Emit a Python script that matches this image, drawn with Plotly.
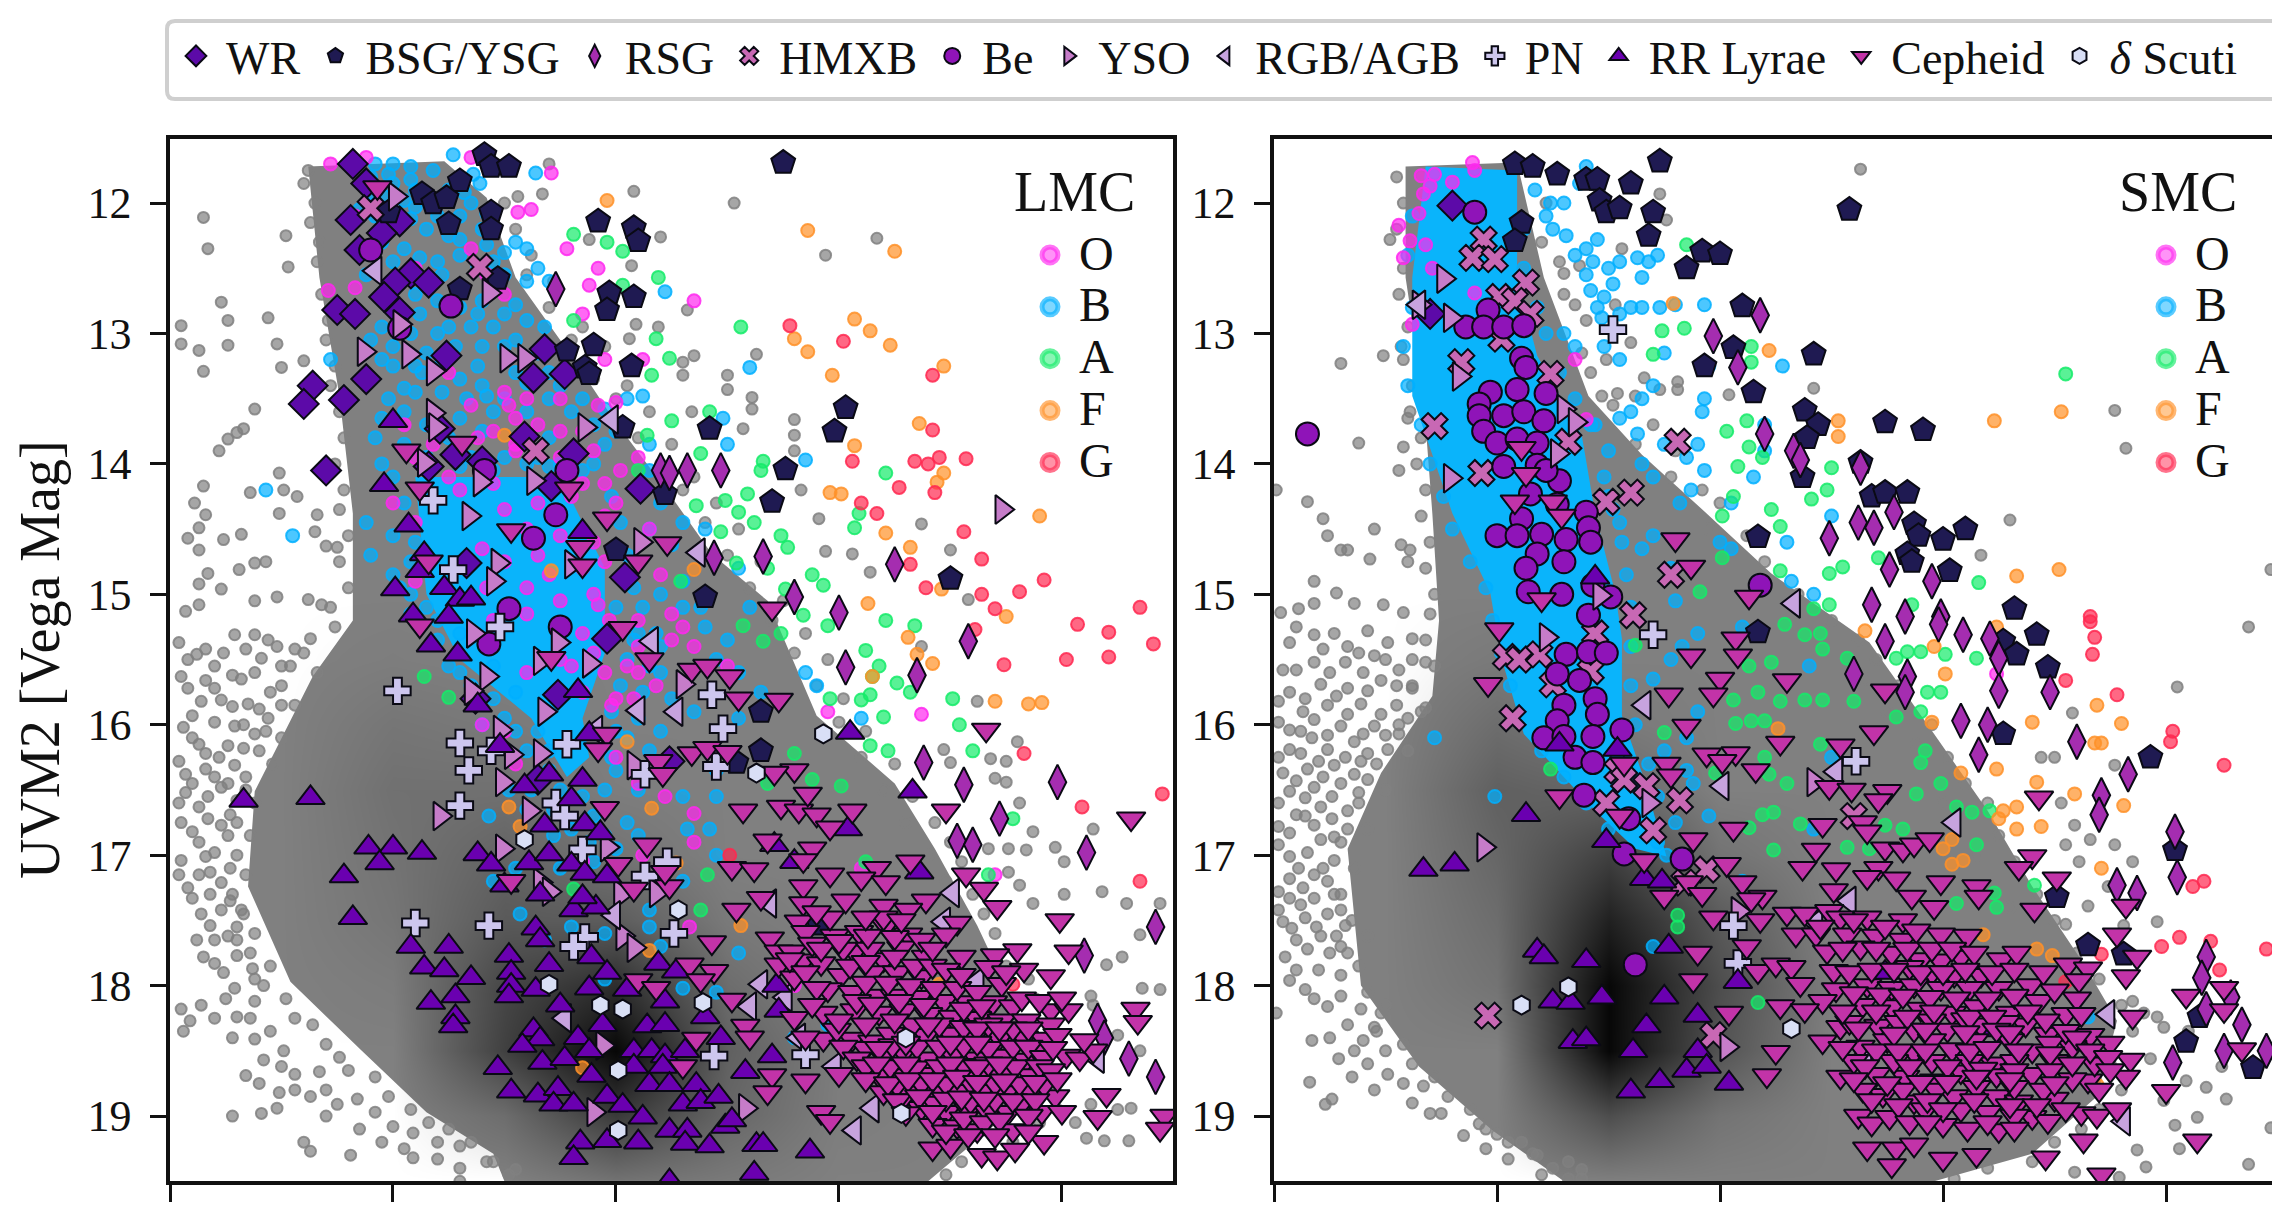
import plotly.graph_objects as go

PAGE_W, PAGE_H = 2272, 1218
tick_vals_y = [12, 13, 14, 15, 16, 17, 18, 19]
tick_vals_x = [0, 1, 2, 3, 4]
y_title = "UVM2 [Vega Mag]"

# ---------- LMC values (position on the colour axis, UVM2) ----------
lmc_gray = [(.15,12.11),(.17,12.35),(.52,12.25),(.53,12.49),(.23,12.76),(.26,12.9),(.44,12.88),(.05,12.94),(.05,13.08),(.13,13.13),(.26,13.09),(.48,13.08),(.6,13.21),(.15,13.29),(.5,13.26),(.38,13.58),(.33,13.73),(.3,13.76),(.26,13.81),(.22,13.9),(.49,14.07),(.15,14.17),(.36,14.22),(.51,14.2),(.57,14.25),(.11,14.3),(.16,14.39),(.49,14.38),(.66,14.39),(.65,14.52),(.13,14.49),(.08,14.57),(.13,14.66),(.24,14.58),(.32,14.54),(.7,14.63),(.75,14.64),(.38,14.76),(.43,14.75),(.31,14.81),(.17,14.84),(.13,14.92),(.23,14.96),(.38,15.05),(.48,15.02),(.62,15.04),(.68,15.08),(.13,15.08),(.07,15.13),
(2.53,12.0),(2.08,11.91),(1.7,11.7),(1.67,11.93),(1.56,11.95),(2.2,12.26),(1.88,12.28),(3.17,12.27),(2.94,12.4),(2.07,12.48),(2.32,12.82),(2.09,12.93),(2.19,12.95),(2.06,13.04),(2.63,13.16),(2.35,13.17),(2.3,13.22),(2.3,13.32),(2.5,13.32),(2.5,13.43),(2.61,13.49),(2.61,13.58),(2.34,13.6),(2.8,13.66),(2.8,13.78),(2.57,13.73),(2.8,13.9),(2.83,14.2),(2.91,14.42),(3.37,14.46),(2.94,14.67),(3.06,14.69),(3.5,14.66),(3.14,14.83),(3.58,15.04),
(3.37,15.4),(3.62,15.82),(3.8,16.13),(3.47,16.19),(3.68,16.26),(3.75,16.28),(3.5,16.29),(3.7,16.41),(3.75,16.44),(3.81,16.6),(4.14,16.8),(3.87,16.82),(3.67,16.95),(3.76,16.95),(3.84,16.96),(3.97,16.94),(4.01,17.05),(3.76,17.13),(3.81,17.23),(4.01,17.3),(4.18,17.28),(4.29,17.37),(4.44,17.37),(3.87,17.37),(4.35,17.61),(4.27,17.78),(4.2,17.84),(4.44,18.03),(4.36,18.02),(4.13,18.08),(4.14,18.15),(4.25,18.38),(4.35,18.5),(4.31,18.94),(4.25,18.95),(4.13,18.91),(4.06,19.05),(4.11,19.17),(4.19,19.19),(4.3,19.19),
(.12,15.46),(.2,15.55),(.29,15.31),(.05,15.63),(.16,15.66),(.32,15.65),(.41,15.49),(.54,15.55),(.48,15.4),(.38,15.31),(.04,15.37),(.63,15.34),(.23,15.81),(.1,15.93),(.35,15.84),(.45,15.75),(.29,16.01),(.1,16.1),(.04,16.28),(.16,16.22),(.26,16.16),(.38,16.07),(.16,16.34),(.29,16.31),(.1,16.45),(.23,16.48),(.13,16.63),(.04,16.6),(.27,16.69),(.1,16.82),(.23,16.77),(.05,17.04),(.16,17.01),(.13,17.15),(.23,17.21),(.1,17.33),(.18,17.3),(.23,17.42),(.32,17.42),(.18,17.54),(.26,17.62),(.3,17.77),(.2,17.83),(.24,17.9),(.37,17.87),(.29,18.02),(.38,18.12),(.05,18.18),(.09,18.27),(.2,18.25),(.3,18.24),(.06,18.35),(.38,18.41),(.51,18.5),(.42,18.57),(.34,18.69),(.56,18.68),(.67,18.66),(.49,18.82),(.63,18.85),(.75,18.91),(.84,18.87),(.28,19.0),(.41,18.98),(.48,18.94),(.92,18.97),(1.0,19.08),(1.09,19.13),(1.2,19.2),(.6,19.2),(.63,19.27),(.81,19.3),(1.09,19.32),(1.3,19.23),(1.42,19.35),(1.55,19.41),(1.3,19.5)]
lmc_gray_edge = [(1.5,12.0),(1.55,12.2),(1.62,12.4),(1.6,12.55),(1.72,12.6),(1.7,12.8),(1.85,12.95),(1.8,13.05),(1.95,13.1),(1.9,13.35),(2.05,13.4),(2.0,13.5),(2.15,13.6),(2.1,13.8),(2.25,13.85),(2.2,14.0),(2.35,14.1),(2.3,14.2),(2.45,14.3),(2.4,14.45),(2.55,14.5),(2.5,14.7),(2.65,14.75),(2.6,14.95),(2.75,15.05),(2.7,15.2),(2.85,15.3),(2.8,15.45),(2.95,15.5),(2.9,15.7),(3.02,15.8),(3.0,15.98),(3.12,16.05),(3.1,16.25),(3.25,16.3),(3.2,16.5),(3.33,16.55),(3.3,16.75),(3.43,16.75),(3.5,16.9),(3.4,17.0),(3.55,17.05),(3.48,17.2),(3.6,17.3),(3.65,17.45),(3.55,17.5),(3.7,17.6),(3.62,17.75),(3.75,17.85),(3.85,17.95),(3.88,18.1),(3.95,18.3),(3.95,18.75),(3.98,18.95),(3.9,19.05),(3.78,19.2),(3.65,19.3),(3.55,19.35),(3.48,19.45),(3.75,18.98),
(.62,11.75),(.6,11.85),(.65,12.0),(.63,12.15),(.67,12.3),(.66,12.45),(.68,12.7),(.71,12.9),(.7,13.05),(.74,13.25),(.72,13.4),(.76,13.6),(.78,13.8),(.74,14.0),(.78,14.2),(.76,14.35),(.8,14.55),(.76,14.75),(.8,14.95),(.72,15.1),(.74,15.25),(.6,15.45),(.66,15.6),(.5,15.7),(.56,15.85),(.44,15.95),(.5,16.1),(.4,16.2),(.46,16.3),(.34,16.4),(.38,16.6),(.3,16.75),(.36,16.85),(.3,17.0),(.34,17.15),(.28,17.3),(.33,17.45),(.38,17.6),(.36,17.75),(.45,17.85),(.42,18.0),(.52,18.1),(.56,18.25),(.64,18.3),(.7,18.45),(.76,18.55),(.8,18.65),(.92,18.7),(.98,18.85),(1.08,18.95),(1.16,19.05),(1.25,19.1),(1.35,19.2),(1.45,19.35),(1.52,19.45)]
lmc_gray_more = [(.08,15.5),(.16,15.42),(.24,15.45),(.34,15.42),(.44,15.35),(.56,15.42),(.08,15.72),(.2,15.72),(.28,15.62),(.38,15.6),(.5,15.55),(.14,15.82),(.28,15.86),(.4,15.88),(.5,15.85),(.06,16.02),(.2,15.98),(.33,16.0),(.43,16.05),(.13,16.15),(.22,16.25),(.33,16.18),(.07,16.38),(.2,16.4),(.26,16.45),(.34,16.5),(.07,16.52),(.17,16.55),(.3,16.58),(.17,16.72),(.05,16.75),(.26,16.85),(.13,16.9),(.2,16.98),(.27,17.1),(.04,17.15),(.18,17.13),(.08,17.25),(.27,17.35),(.14,17.45),(.3,17.55),(.2,17.65),(.12,17.65),(.3,17.65),(.15,17.78),(.38,17.95),(.25,18.1),(.36,18.25),(.14,18.15),(.45,18.35),(.5,18.62),(.28,18.4),(.4,18.75),(.56,18.8),(.7,18.8),(.7,19.0),(.85,19.1),(.95,19.2),(1.05,19.25),(1.2,19.33),(1.3,19.4)]
lmc_o = [(.72,11.7),(.88,11.65),(1.35,11.65),(1.71,11.77),(1.56,12.07),(1.62,12.05),(.83,12.1),(1.78,12.35),(1.92,12.5),(1.88,12.63),(2.35,12.75),(.71,12.67),(.83,12.65),(1.35,12.35),(1.42,12.55),(1.5,12.7),(1.1,12.5),(1.85,12.85),(1.95,13.2),(2.12,13.2),(1.92,13.55),(2.0,13.53),(1.75,13.5),(1.52,13.55),(1.55,13.65),(1.05,13.7),(1.1,13.95),(1.18,13.85),(1.38,13.8),(1.55,13.9),(1.75,13.95),(2.1,13.95),(1.85,14.15),(1.95,14.15),(2.0,14.3),(1.0,14.3),(1.1,14.45),(1.25,14.1),(1.75,14.1),(1.9,14.6),(2.15,14.5),(1.4,14.65),(1.65,14.7),(1.95,14.75),(1.9,15.0),(1.97,15.2),(2.2,14.85),(1.1,14.9),(1.42,14.95),(1.6,14.95),(1.92,15.08),(2.25,15.35),(2.5,15.55),(1.9,15.45),(2.05,15.55),(2.1,15.6),(2.18,15.7),(2.0,15.8),(2.08,15.8),(2.95,15.9),(1.98,15.85),(1.4,16.0),(1.5,16.05),(1.95,16.1),(1.55,16.3),(2.0,16.25),(2.1,16.45),(3.37,15.92),(2.22,16.55),(2.35,16.68),(2.35,16.9),(2.12,17.0),(1.85,17.05),(3.1,17.1),(3.7,17.15),(2.33,17.55),(2.8,18.0),(2.65,18.0),
(1.3,14.2),(1.45,14.15),(1.5,14.35),(1.65,14.3),(1.8,14.25),(1.6,14.5),(1.75,14.55),(1.85,14.8),(1.7,14.85),(1.5,14.75),(1.75,15.05),(1.6,15.15),(1.45,15.2),(1.85,15.3),(1.95,15.6),(1.75,15.5),(1.6,15.6),(1.85,15.75),(1.8,15.55),(2.25,15.15),(2.3,15.25),(2.35,15.4),(2.0,15.3),(2.1,15.4),(2.1,15.2),(1.25,13.3),(1.35,13.55),(1.5,13.45),(1.55,13.85),(1.6,13.5),(1.45,13.75),(1.65,13.7),(1.85,13.75),(1.75,13.75),(1.9,13.9),(2.02,14.05),(1.95,14.4)]
lmc_b = [(.84,11.7),(.92,11.7),(1.0,11.7),(1.08,11.72),(1.27,11.63),(1.36,11.78),(1.64,11.77),(1.0,11.85),(1.1,11.9),(.96,11.95),(1.25,11.9),(1.39,11.85),(1.35,12.0),(1.1,12.03),(1.2,12.1),(.85,12.05),(1.15,12.2),(1.25,12.25),(1.4,12.2),(1.55,12.3),(1.5,12.38),(1.6,12.35),(1.05,12.35),(1.12,12.42),(1.3,12.4),(1.2,12.45),(1.65,12.5),(1.7,12.6),(1.22,12.55),(1.5,12.55),(2.22,12.68),(1.1,12.7),(1.2,12.75),(1.4,12.75),(1.3,12.8),(1.5,12.85),(1.55,12.78),(1.6,12.9),(1.68,12.95),(1.35,12.95),(1.45,12.95),(1.2,13.0),(1.0,13.1),(1.28,13.1),(1.15,13.15),(1.4,13.1),(1.5,13.1),(.72,13.2),(1.0,13.25),(1.13,13.3),(1.3,13.35),(1.4,13.4),(1.55,13.3),(1.1,13.45),(1.22,13.45),(1.33,13.5),(1.5,13.5),(1.7,13.5),(1.85,13.5),(2.05,13.5),(2.12,13.48),(2.6,13.26),(.95,13.65),(1.05,13.6),(1.15,13.7),(1.3,13.65),(1.45,13.6),(1.6,13.6),(1.8,13.6),(1.9,13.7),(.92,13.8),(1.05,13.85),(1.25,13.8),(1.4,13.75),(1.7,13.8),(1.95,13.85),(2.0,13.75),(2.15,13.85),(2.48,13.65),(2.5,13.85),(.43,14.2),(.95,14.0),(1.65,13.95),(1.9,14.0),(2.15,14.05),(2.85,13.97),(.55,14.55),(2.2,14.3),(2.3,14.45),(2.15,14.5),(2.25,14.62),(2.4,14.5),(2.55,14.8),(2.6,15.1),(.88,14.45),(.9,14.7),(1.1,14.6),(1.0,14.85),(1.08,15.0),
(2.1,15.3),(2.2,15.4),(2.5,15.35),(2.85,15.6),(2.9,15.7),(2.15,15.55),(2.25,15.8),(2.35,15.9),(2.55,15.95),(2.65,15.75),(1.3,15.6),(1.4,16.0),(1.55,16.05),(2.05,16.1),(2.15,16.2),(2.2,16.05),(3.1,15.95),(2.0,16.35),(2.1,16.5),(2.3,16.55),(2.45,16.35),(2.45,16.55),(1.43,16.7),(1.9,16.7),(2.05,16.75),(2.1,16.85),(2.32,16.8),(2.42,16.8),(2.45,17.0),(1.88,16.9),(1.45,17.2),(1.55,17.1),(2.2,17.1),(2.3,17.2),(1.57,17.45),(2.15,17.42),(1.8,17.55),(2.15,17.55),(1.95,17.6),(2.2,17.7),(2.55,17.75),(1.68,17.65),(2.3,18.02),(2.45,18.05),(1.95,17.95),(2.8,18.4),(2.95,18.3),
(1.0,14.1),(1.05,14.3),(1.0,14.55),(1.08,14.75),(1.03,14.95),(1.15,15.1),(1.12,15.25),(1.2,15.35),(1.25,15.55),(1.35,15.7),(1.45,15.8),(1.5,15.95),(1.6,16.2),(1.7,16.35),(1.75,16.5),(1.85,16.55),(1.95,16.5),(1.98,16.25),(2.0,16.05),(1.98,15.9),(2.02,15.7),(2.05,15.5),(2.08,15.35),(2.0,15.1),(2.08,14.95),(2.05,14.7),(2.02,14.45),(1.98,14.25),(1.85,14.05),(1.7,14.02),(1.45,14.05),(1.3,14.02),(1.15,14.02),
(.9,11.8),(.98,11.78),(1.08,11.82),(1.18,11.75),(.9,11.92),(1.05,11.98),(1.18,11.98),(1.32,11.92),(.92,12.1),(1.08,12.12),(1.3,12.1),(1.42,12.08),(.95,12.3),(1.3,12.28),(1.42,12.32),(1.0,12.45),(1.38,12.48),(1.45,12.45),(1.6,12.6),(.88,12.55),(1.0,12.78),(1.12,12.85),(1.38,12.85),(.95,12.95),(1.08,13.0),(1.25,12.95),(1.55,13.05),(1.65,13.15),(.9,13.05),(.95,13.2),(1.1,13.25),(1.22,13.22),(1.38,13.25),(1.7,13.3),(1.05,13.42),(.98,13.5),(1.42,13.48),(1.6,13.38),(1.75,13.4),(1.95,13.58),(1.35,13.95),(1.5,13.95),(1.15,13.95),(1.6,14.0),(1.75,14.0),
(1.08,15.15),(1.2,15.2),(1.3,15.3),(1.45,15.55),(1.55,15.75),(1.65,16.05),(1.7,16.2),(1.52,16.5),(1.62,16.5),(1.6,16.65),(1.72,16.65),(1.8,16.8),(1.72,16.85),(1.95,16.85),(1.9,17.05),(2.0,16.95),(1.75,17.1),(2.12,15.75),(2.1,15.95),(2.2,15.6),(2.18,15.3),(2.12,15.1),(2.2,15.0),(2.3,15.1),(2.3,14.9),(2.38,15.1),(2.4,15.25),(2.45,15.5),(2.55,15.6)]
lmc_a = [(1.81,12.24),(1.96,12.3),(2.03,12.37),(2.19,12.57),(2.03,12.63),(1.81,12.9),(2.56,12.95),(2.18,13.04),(2.24,13.19),(2.16,13.32),(2.25,13.67),(2.42,13.6),(2.14,13.78),(2.38,13.92),(2.66,13.98),(2.65,14.05),(3.21,14.07),(2.1,14.05),(2.59,14.23),(2.49,14.28),(2.36,14.32),(2.55,14.37),(2.62,14.45),(3.09,14.38),(3.07,14.49),(2.47,14.52),(2.74,14.55),(2.77,14.64),(2.54,14.76),(2.88,14.85),(2.93,14.93),(2.68,14.8),(2.29,14.9),(2.76,14.96),(2.84,15.16),(2.57,15.24),(2.66,15.36),(2.74,15.3),(2.95,15.24),(3.12,15.43),(3.21,15.2),(3.34,15.24),(3.18,15.55),(3.15,15.63),(3.26,15.68),(3.32,15.75),(3.51,15.8),(2.96,15.8),(3.10,15.81),(3.14,15.77),(3.2,15.94),(3.54,16.0),(3.14,16.16),(3.22,16.2),(3.6,16.2),(2.8,16.22),(2.88,16.42),(3.01,16.47),(2.68,16.45),(1.14,15.63),(1.25,15.79),(3.78,16.72),(2.41,17.15),(3.12,17.05),(3.67,17.15),(1.81,17.26),(2.38,17.42)]
lmc_f = [(1.96,11.98),(2.86,12.21),(3.25,12.37),(3.07,12.89),(3.14,12.98),(2.8,13.04),(2.86,13.14),(3.23,13.09),(3.47,13.25),(2.97,13.32),(3.36,13.69),(3.07,13.86),(3.47,14.07),(3.44,14.14),(2.96,14.22),(3.01,14.23),(3.9,14.4),(3.21,14.53),(3.32,14.64),(2.35,14.81),(1.71,14.82),(3.46,14.96),(3.13,15.07),(3.75,15.17),(1.5,13.78),(3.31,15.33),(3.35,15.46),(3.42,15.53),(3.15,15.63),(3.7,15.82),(3.85,15.84),(3.91,15.83),(2.05,16.13),(1.52,16.63),(2.16,16.64),(1.57,16.78),(2.27,17.06),(2.56,17.54),(2.15,17.73),(3.45,17.99),(1.85,18.63)]
lmc_g = [(2.78,12.94),(3.02,13.06),(3.42,13.32),(3.42,13.74),(3.45,13.95),(3.57,13.96),(3.06,13.98),(3.34,13.98),(3.4,14.0),(3.27,14.18),(3.43,14.22),(3.1,14.3),(3.17,14.38),(3.56,14.52),(3.64,14.73),(3.32,14.77),(3.39,14.95),(3.92,14.89),(3.81,14.98),(3.64,15.0),(3.7,15.11),(4.35,15.1),(3.61,15.27),(4.07,15.23),(4.21,15.29),(4.41,15.38),(4.02,15.5),(4.21,15.48),(3.74,15.54),(3.83,16.22),(4.45,16.53),(4.09,16.63),(2.51,17.0),(4.35,17.2),(3.78,17.99)]
lmc_wr = [(.82,11.70),(.88,11.85),(.81,12.13),(1.03,12.14),(.95,12.23),(.85,12.36),(1.08,12.54),(1.16,12.61),(1.01,12.61),(.96,12.72),(.75,12.82),(.83,12.85),(1.03,12.84),(1.68,13.12),(1.24,13.17),(.88,13.35),(1.77,13.31),(1.63,13.34),(.64,13.40),(.60,13.54),(.78,13.51),(1.59,13.79),(1.21,13.73),(1.81,13.92),(1.28,13.93),(1.40,13.98),(1.16,14.02),(.70,14.05),(1.71,14.17),(2.11,14.19),(1.33,14.76),(2.04,14.87),(1.96,15.34),(1.74,15.77),(1.37,15.80),(2.24,16.28),(1.65,16.42)]
lmc_bsg = [(1.41,11.63),(1.44,11.72),(1.52,11.72),(2.75,11.69),(1.30,11.83),(1.13,11.93),(1.18,12.0),(1.24,11.96),(.98,12.07),(1.44,12.07),(1.44,12.2),(1.25,12.16),(1.92,12.14),(2.08,12.19),(2.10,12.29),(1.47,12.58),(1.30,12.66),(1.97,12.69),(2.08,12.72),(1.96,12.82),(1.78,13.13),(1.90,13.09),(1.86,13.26),(2.07,13.25),(1.88,13.31),(3.03,13.57),(2.98,13.75),(2.42,13.73),(2.03,13.72),(2.76,14.04),(2.22,14.23),(2.70,14.29),(2.0,14.66),(3.50,14.88),(2.40,15.02),(2.65,15.90),(2.65,16.2),(2.54,16.29),(2.91,17.53)]
lmc_rsg = [(1.73,12.66),(2.2,14.05),(2.24,14.07),(2.32,14.05),(2.47,14.05),(2.66,14.71),(2.44,14.72),(3.25,14.77),(2.80,15.02),(3.0,15.14),(3.58,15.36),(3.03,15.56),(3.35,15.62),(3.38,16.29),(3.56,16.46),(3.98,16.44),(3.72,16.72),(3.53,16.89),(3.60,16.92),(4.11,16.98),(4.42,17.55),(4.10,17.77),(4.16,18.27),(4.19,18.40),(4.30,18.56),(4.42,18.70)]
lmc_hmxb = [(.90,12.04),(1.39,12.49),(1.64,13.90)]
lmc_be = [(.90,12.36),(1.26,12.79),(1.03,12.96),(1.41,14.05),(1.78,14.05),(1.73,14.39),(1.63,14.57),(1.52,15.11),(1.43,15.38),(1.75,15.25)]
lmc_yso = [(1.01,11.95),(1.03,12.93),(.87,13.14),(1.07,13.16),(1.18,13.29),(1.51,13.19),(1.59,13.19),(1.43,12.69),(1.18,13.61),(1.19,13.72),(1.86,13.72),(1.14,13.99),(1.39,14.14),(1.63,14.13),(1.34,14.4),(2.11,14.6),(1.47,14.76),(1.80,14.77),(1.45,14.9),(1.36,15.3),(1.74,15.37),(1.88,15.53),(1.66,15.51),(1.42,15.63),(1.35,15.74),(1.68,15.9),(2.30,15.69),(1.48,16.04),(1.66,16.22),(1.53,16.23),(2.08,16.31),(1.49,16.44),(1.21,16.70),(1.61,16.66),(1.49,16.95),(1.96,16.94),(1.66,17.21),(1.70,17.28),(2.02,17.3),(2.18,17.29),(2.03,17.62),(2.08,17.71),(1.94,18.46),(1.90,18.97),(2.58,18.94),(3.73,14.35)]
lmc_rgb = [(.92,12.52),(1.98,13.66),(2.37,14.68),(2.16,15.36),(2.10,15.89),(2.27,15.9),(1.91,16.04),(1.99,17.46),(2.69,17.37),(3.51,17.29),(3.47,17.51),(3.62,17.97),(2.65,17.99),(2.76,18.09),(2.60,18.16),(1.77,18.25),(2.98,18.62),(3.15,18.94),(3.07,19.11),(4.16,18.56),(2.82,18.4)]
lmc_pn = [(1.18,14.28),(1.27,14.81),(1.48,15.25),(1.02,15.74),(2.43,15.77),(2.48,16.03),(1.30,16.14),(1.78,16.15),(1.44,16.2),(1.34,16.35),(2.13,16.38),(2.45,16.32),(1.30,16.62),(1.73,16.6),(1.77,16.7),(1.85,16.96),(2.23,17.05),(2.13,17.16),(1.10,17.52),(1.43,17.54),(2.26,17.6),(1.86,17.63),(1.81,17.7),(2.44,18.54),(2.85,18.53)]
lmc_rr = [(1.0,13.67),(.96,14.16),(1.07,14.47),(1.14,14.69),(1.12,14.82),(1.01,14.96),(1.23,14.95),(1.30,15.04),(1.35,15.03),(1.09,15.16),(1.25,15.17),(1.85,14.52),(1.17,15.39),(1.29,15.46),(1.83,15.74),(1.38,15.85),(1.48,16.16),(1.88,16.07),(1.59,16.47),(1.70,16.38),(1.85,16.42),(1.80,16.57),(3.05,16.06),(3.33,16.51),(.33,16.58),(.63,16.56),(1.68,16.77),(1.86,16.76),(1.93,16.83),(3.04,16.8),(.89,16.94),(1.0,16.94),(1.13,16.98),(.94,17.06),(1.38,16.99),(1.44,17.07),(1.61,17.06),(1.70,16.99),(1.80,17.07),(1.86,17.14),(1.96,17.16),(1.50,17.23),(1.66,17.3),(.78,17.16),(.82,17.48),(1.81,17.42),(1.91,17.4),(1.85,17.32),(3.36,17.13),(2.71,16.92),(2.80,17.05),(1.64,17.56),(1.66,17.65),(1.08,17.7),(1.25,17.7),(1.52,17.77),(1.89,17.78),(1.14,17.86),(1.23,17.88),(1.53,17.9),(1.70,17.84),(1.96,17.9),(2.19,17.83),(2.27,17.89),(1.35,17.94),(1.53,18.0),(1.64,18.03),(1.28,18.08),(1.52,18.08),(1.17,18.13),(1.75,18.15),(1.88,18.02),(2.05,18.03),(2.72,18.0),(2.22,18.12),(2.73,18.19),(1.28,18.24),(1.27,18.31),(2.40,18.24),(1.94,18.3),(2.14,18.31),(2.22,18.3),(1.63,18.34),(1.66,18.41),(1.58,18.46),(2.47,18.4),(1.83,18.4),(1.88,18.5),(2.08,18.5),(2.16,18.5),(2.22,18.54),(2.31,18.5),(2.70,18.54),(1.47,18.63),(1.67,18.59),(1.77,18.56),(1.89,18.69),(2.08,18.62),(2.21,18.62),(2.58,18.66),(1.53,18.81),(1.65,18.84),(1.74,18.79),(1.96,18.85),(2.15,18.76),(2.24,18.76),(2.36,18.76),(1.72,18.91),(1.81,18.91),(2.03,18.92),(2.30,18.91),(2.38,18.89),(2.46,18.85),(2.12,19.01),(2.24,19.11),(2.32,19.11),(2.49,19.08),(2.52,19.03),(1.84,19.2),(1.96,19.19),(2.10,19.2),(2.31,19.21),(2.42,19.23),(2.63,19.22),(2.66,19.22),(2.87,19.27),(1.81,19.32),(2.62,19.44),(2.24,19.5)]
lmc_cep = [(.93,11.88),(1.06,13.9),(1.31,13.84),(1.12,14.19),(1.79,14.19),(1.96,14.42),(1.53,14.51),(2.23,14.61),(1.84,14.64),(1.16,14.75),(2.10,14.75),(1.85,14.78),(2.70,15.11),(1.12,15.24),(2.03,15.26),(1.71,15.49),(2.15,15.5),(2.34,15.58),(2.41,15.55),(2.51,15.63),(2.55,15.8),(2.73,15.81),(1.96,16.07),(1.92,16.19),(2.19,16.28),(2.34,16.22),(2.41,16.18),(2.5,16.21),(2.21,16.38),(2.80,16.35),(3.66,16.04),(2.71,16.37),(2.57,16.66),(1.95,16.64),(2.74,16.63),(2.82,16.66),(2.90,16.69),(2.86,16.53),(3.06,16.66),(2.96,16.79),(3.48,16.66),(4.31,16.72),(2.68,16.89),(2.88,16.95),(2.84,17.04),(2.14,16.92),(2.01,17.07),(2.52,17.1),(2.62,17.11),(3.17,17.1),(3.32,17.05),(3.57,17.15),(1.53,17.2),(2.08,17.26),(2.24,17.24),(2.22,17.13),(2.65,17.33),(2.84,17.24),(2.96,17.15),(3.10,17.18),(3.21,17.21),(3.65,17.26),(2.54,17.42),(2.84,17.37),(3.03,17.35),(3.20,17.39),(3.39,17.35),(3.31,17.42),(3.71,17.4),(3.99,17.5),(2.43,17.67),(2.82,17.51),(2.85,17.59),(2.98,17.62),(3.09,17.59),(3.21,17.54),(3.31,17.61),(3.53,17.52),(3.48,17.61),(2.69,17.64),(2.33,17.84),(2.44,17.89),(2.38,17.96),(2.10,17.96),(2.18,18.02),(2.73,17.74),(2.79,17.74),(2.84,17.81),(2.92,17.83),(3.07,17.74),(3.20,17.8),(3.28,17.71),(3.39,17.78),(3.55,17.78),(3.80,17.73),(3.70,17.77),(4.03,17.74),(3.67,17.86),(3.83,17.88),(3.95,17.93),(2.73,17.84),(3.01,17.92),(3.15,17.9),(3.26,17.9),(3.37,17.93),(2.80,17.94),(2.95,18.03),(3.06,18.05),(3.17,18.08),(3.25,18.08),(3.36,18.09),(3.47,18.12),(3.58,18.13),(3.73,17.99),(3.69,18.13),(3.78,18.16),(2.52,18.11),(2.93,18.21),(3.07,18.19),(3.18,18.21),(3.29,18.19),(3.40,18.22),(3.51,18.24),(3.62,18.25),(3.73,18.27),(3.84,18.27),(3.95,18.19),(4.03,18.19),(4.33,18.18),(4.34,18.28),(2.58,18.31),(2.60,18.4),(2.93,18.41),(3.06,18.41),(3.15,18.43),(2.99,18.34),(3.23,18.37),(3.39,18.38),(3.50,18.37),(3.61,18.38),(3.72,18.4),(3.83,18.4),(3.92,18.41),(3.95,18.3),(4.02,18.54),(4.08,18.56),(4.14,18.5),(2.36,18.41),(2.30,18.62),(2.70,18.69),(2.68,18.82),(2.85,18.73),(3.20,18.54),(3.29,18.51),(3.40,18.56),(3.51,18.53),(3.62,18.56),(3.73,18.54),(3.84,18.57),(3.18,18.69),(3.28,18.69),(3.37,18.68),(3.48,18.66),(3.58,18.68),(3.67,18.68),(3.76,18.68),(3.86,18.69),(3.20,18.82),(3.31,18.82),(3.42,18.82),(3.53,18.81),(3.64,18.81),(3.75,18.82),(3.86,18.81),(3.97,18.85),(4.20,18.84),(3.37,18.94),(3.48,18.97),(3.58,18.95),(3.67,18.97),(3.76,18.97),(3.91,18.97),(4.0,18.97),(4.16,19.01),(2.92,18.97),(2.96,19.04),(4.46,19.0),(4.44,19.1),(3.42,19.07),(3.53,19.08),(3.62,19.11),(3.78,19.11),(3.92,19.2),(3.42,19.25),(3.50,19.23),(3.64,19.3),(3.71,19.32),(3.79,19.26),
(3.12,18.3),(3.33,18.3),(3.45,18.3),(3.56,18.32),(3.67,18.3),(3.78,18.33),(3.12,18.48),(3.24,18.46),(3.35,18.47),(3.45,18.47),(3.56,18.46),(3.67,18.48),(3.78,18.47),(3.89,18.5),(3.23,18.62),(3.34,18.63),(3.45,18.62),(3.56,18.61),(3.67,18.6),(3.79,18.62),(3.26,18.76),(3.37,18.75),(3.48,18.75),(3.59,18.74),(3.7,18.75),(3.81,18.75),(3.92,18.76),(3.28,18.88),(3.43,18.9),(3.59,18.89),(3.7,18.88),(3.82,18.9),(3.02,17.72),(3.14,17.72),(3.25,17.78),(3.34,17.85),(3.12,17.98),(3.22,17.98),(3.32,18.0),(3.43,18.02),(3.53,18.02),(3.62,18.05),
(3.05,17.85),(3.12,17.82),(3.42,17.85),(3.48,17.88),(3.55,17.92),(3.75,17.9),(3.08,18.12),(3.15,18.14),(3.27,18.12),(3.38,18.15),(3.56,18.18),(3.64,18.16),(3.82,18.1),(3.9,18.12),(4.0,18.1),(3.0,18.27),(3.25,18.27),(3.4,18.3),(3.62,18.33),(3.72,18.33),(3.85,18.33),(3.98,18.38),(4.1,18.42),(2.8,18.25),(2.85,18.4),(3.02,18.47),(3.08,18.56),(3.18,18.48),(3.3,18.44),(3.5,18.44),(3.62,18.44),(3.85,18.47),(3.92,18.55),(3.96,18.48),(3.12,18.62),(3.17,18.6),(3.3,18.6),(3.5,18.6),(3.62,18.62),(3.72,18.6),(3.9,18.62),(3.95,18.65),(3.0,18.68),(3.12,18.72),(3.22,18.75),(3.31,18.72),(3.42,18.72),(3.53,18.7),(3.62,18.74),(3.74,18.73),(3.88,18.74),(3.98,18.72),(3.26,18.88),(3.36,18.85),(3.48,18.87),(3.55,18.86),(3.65,18.87),(3.78,18.88),(3.88,18.88),(3.3,18.98),(3.42,18.97),(3.56,19.02),(3.65,19.05),(3.72,19.03),(3.85,19.0),(3.48,19.12),(3.58,19.15),(3.7,19.15),(3.85,19.12),(2.88,17.68),(2.92,17.72),(3.0,17.66),(3.13,17.62),(3.25,17.63),(3.37,17.65),(3.42,17.72),(3.2,17.48),(3.28,17.5),(3.12,17.48),(2.96,17.48),(2.9,17.44),(2.78,17.8),(2.85,17.9),(2.9,18.02),(2.88,18.15)]
lmc_scuti = [(2.93,16.07),(2.63,16.37),(1.59,16.88),(2.28,17.42),(1.70,17.99),(1.93,18.15),(2.03,18.18),(2.39,18.13),(3.30,18.40),(2.01,18.65),(3.28,18.98),(2.01,19.11)]

lmc_dense_gray = [(.62,11.72),(1.23,11.68),(1.42,11.96),(1.55,12.57),(1.80,13.17),(1.99,13.66),(2.24,14.23),(2.43,14.69),(2.68,15.05),(2.90,15.93),(3.25,16.45),(3.43,16.95),(3.62,17.54),(3.78,18.12),(3.87,18.70),(3.69,19.08),(3.40,19.5),(1.5,19.5),(1.45,19.29),(1.15,18.97),(.86,18.5),(.54,17.97),(.35,17.24),(.38,16.51),(.64,15.63),(.82,15.2),(.82,14.38),(.76,13.48),(.67,12.57)]
lmc_dense_b = [(1.1,14.1),(1.75,14.1),(1.95,14.8),(1.95,15.45),(1.85,15.95),(1.88,16.25),(1.78,16.4),(1.62,15.95),(1.3,15.5),(1.15,15.0)]
lmc_dark_x = [.5, 1, 1.5, 2, 2.5, 3, 3.5]
lmc_dark_y = [15, 15.5, 16, 16.5, 17, 17.5, 18, 18.5, 19, 19.5]
lmc_dark_z = [[0,0,0,0,0,0,0],[0,.02,0,0,0,0,0],[0,.08,.05,0,0,0,0],[0,.12,.12,.02,0,0,0],[0,.1,.22,.1,0,0,0],[0,.08,.3,.28,.05,0,0],[0,.03,.45,.65,.15,0,0],[0,0,.5,.95,.25,.03,0],[0,0,.15,.55,.2,.02,0],[0,0,0,.1,.05,0,0]]

# ---------- SMC values ----------
smc_gray = [(2.63,11.74),(1.73,11.93),(1.76,12.13),(.52,12.28),(1.56,12.35),(1.15,12.48),(1.37,12.48),(1.3,12.54),(1.35,12.78),(1.53,12.78),(.3,13.23),(.49,13.17),(.57,13.1),(1.6,13.07),(1.49,13.2),(1.81,13.37),(1.66,13.34),(1.47,13.48),(1.54,13.46),(1.62,13.48),(1.73,13.43),(1.81,13.43),(2.04,13.47),(2.42,13.42),(3.77,13.59),(3.82,13.88),(.61,13.6),(.38,13.84),(.58,13.87),(.56,14.05),(.01,14.2),(.15,14.29),(.22,14.42),(.45,14.5),(.24,14.55),(.3,14.66),(.33,14.66),(.57,14.62),(.61,14.66),(.43,14.73),(.6,14.75),(.18,14.9),(.28,14.99),(.18,15.07),(.11,15.11),(.36,15.07),(.49,15.08),(.58,15.14),(.03,15.14),(3.3,14.43),(3.17,14.7),(4.47,14.81),
(.18,15.31),(.07,15.37),(.27,15.3),(.33,15.4),(.42,15.28),(.51,15.37),(.62,15.34),(.18,15.52),(.04,15.58),(.32,15.52),(.45,15.47),(.56,15.58),(.68,15.52),(.07,15.75),(.21,15.69),(.33,15.72),(.48,15.66),(.62,15.72),(.13,15.9),(.24,15.85),(.39,15.84),(.55,15.85),(.68,15.87),(.07,16.04),(.18,15.96),(.3,16.01),(.45,16.01),(.56,16.07),(.07,16.19),(.17,16.1),(.24,16.19),(.36,16.13),(.51,16.19),(.04,16.37),(.15,16.34),(.27,16.31),(.39,16.28),(.07,16.51),(.18,16.48),(.3,16.45),(.42,16.42),(.1,16.69),(.21,16.63),(.33,16.66),(.07,16.83),(.18,16.77),(.27,16.86),(.07,17.01),(.15,16.98),(.27,17.04),(.07,17.18),(.18,17.15),(.07,17.33),(.18,17.33),(.27,17.3),(.04,17.51),(.14,17.48),(.24,17.45),(.1,17.65),(.21,17.62),(.32,17.54),(.42,17.62),(.07,17.96),(.14,18.03),(.24,18.16),(.01,18.21),(.39,18.18),(.45,18.32),(.48,18.21),(.17,18.42),(.36,18.5),(.29,18.56),(.42,18.6),(.51,18.68),(.16,18.74),(.67,18.77),(.26,18.87),(.23,18.91),(.7,18.98),(.75,18.98),(.92,19.06),(1.0,19.14),(1.11,19.2),(1.16,19.29),(1.32,19.35),(1.32,19.48),(1.38,19.41),
(4.37,15.25),(4.05,15.71),(3.58,15.91),(3.44,16.25),(3.5,16.25),(3.77,16.31),(3.53,16.6),(3.59,16.77),(3.66,16.88),(3.77,16.92),(3.55,16.92),(3.61,17.05),(3.85,17.05),(3.96,17.51),(3.74,17.24),(3.55,17.53),(3.65,17.39),(3.81,17.54),(3.85,18.12),(3.9,18.21),(3.99,18.32),(3.96,18.24),(4.1,18.35),(3.93,18.56),(4.18,18.78),(4.09,18.73),(4.27,18.87),(4.25,18.62),(3.99,18.88),(4.04,19.07),(4.14,19.01),(4.47,19.09),(3.87,19.26),(4.06,19.25),(4.37,19.37),(3.91,19.39),(3.59,19.43),(3.79,19.47)]
smc_gray_edge = [(.55,11.8),(.58,12.0),(.55,12.2),(.58,12.5),(.56,12.7),(.6,12.95),(.58,13.2),(.62,13.4),(.6,13.65),(.66,13.8),(.64,14.0),(.68,14.2),(.66,14.4),(.7,14.6),(.68,14.8),(.72,15.0),(.7,15.15),(.68,15.35),(.72,15.55),(.62,15.7),(.66,15.9),(.56,16.0),(.6,16.2),(.46,16.3),(.5,16.5),(.38,16.6),(.42,16.8),(.3,16.9),(.36,17.1),(.3,17.3),(.35,17.5),(.3,17.7),(.38,17.85),(.42,18.05),(.5,18.15),(.46,18.35),(.58,18.45),(.62,18.6),(.72,18.7),(.78,18.85),(.88,18.95),(.95,19.1),(1.05,19.2),(1.18,19.3),(1.25,19.4),(1.38,19.48),
(1.22,12.0),(1.2,12.3),(1.28,12.45),(1.3,12.7),(1.4,12.9),(1.38,13.15),(1.42,13.3),(1.52,13.55),(1.7,13.7),(1.62,13.85),(1.8,13.9),(1.78,14.1),(1.92,14.2),(2.0,14.3),(1.95,14.5),(2.12,14.55),(2.2,14.75),(2.15,14.95),(2.35,15.0),(2.5,15.2),(2.45,15.4),(2.62,15.35),(2.7,15.5),(2.65,15.65),(2.8,15.7),(2.75,15.9),(2.95,16.0),(2.88,16.15),(3.02,16.25),(3.1,16.45),(3.0,16.6),(3.2,16.6),(3.25,16.85),(3.15,17.0),(3.32,17.05),(3.42,17.3),(3.3,17.4),(3.5,17.5),(3.45,17.7),(3.6,17.75),(3.7,17.95),(3.6,18.0),(3.8,18.15),(3.85,18.35),(3.75,18.6),(3.8,18.8),(3.7,18.95),(3.62,19.1),(3.5,19.2),(3.4,19.35),(3.2,19.4),(3.05,19.48)]
smc_gray_more = [(.1,15.25),(.22,15.42),(.38,15.45),(.5,15.5),(.62,15.5),(.1,15.58),(.25,15.6),(.4,15.6),(.55,15.7),(.02,15.82),(.14,15.8),(.28,15.78),(.42,15.74),(.33,15.92),(.48,15.92),(.6,15.95),(.02,15.98),(.12,16.05),(.24,16.08),(.4,16.07),(.5,16.08),(.02,16.25),(.12,16.22),(.2,16.28),(.32,16.25),(.42,16.22),(.1,16.43),(.22,16.4),(.36,16.38),(.02,16.6),(.14,16.56),(.26,16.55),(.38,16.52),(.14,16.7),(.26,16.72),(.02,16.78),(.21,16.88),(.33,16.8),(.02,16.92),(.11,17.1),(.22,17.1),(.13,17.25),(.02,17.28),(.24,17.2),(.12,17.38),(.3,17.42),(.02,17.42),(.19,17.55),(.08,17.56),(.28,17.62),(.15,17.72),(.25,17.75),(.33,17.75),(.05,17.78),(.2,17.88),(.3,17.92),(.1,17.88),(.18,18.1),(.3,18.08),(.33,18.3),(.25,18.4),(.4,18.42),(.5,18.5),(.58,18.75),(.35,18.7),(.45,18.8),(.62,18.9),(.85,19.15),(.95,19.25),(1.05,19.33),(1.2,19.45)]
smc_o = [(.89,11.69),(.66,11.79),(.72,11.78),(.8,11.84),(.9,11.75),(.67,11.93),(.7,11.87),(.65,12.08),(.56,12.17),(.61,12.29),(.58,12.42),(.68,12.32),(.71,12.5),(.62,12.93),(1.35,13.2),(1.4,13.66),(.9,12.69),(3.24,15.61)]
smc_b = [(1.17,11.9),(1.24,12.0),(1.3,12.0),(1.37,11.85),(1.4,11.72),(1.22,12.1),(1.25,12.2),(1.31,12.25),(1.35,12.4),(1.4,12.35),(1.45,12.28),(1.43,12.45),(1.5,12.5),(1.55,12.45),(1.4,12.55),(1.63,12.42),(1.72,12.4),(1.68,12.45),(1.65,12.57),(1.42,12.67),(1.48,12.72),(1.52,12.62),(1.45,12.8),(1.73,12.8),(1.65,12.8),(1.55,12.85),(1.6,12.8),(1.8,12.78),(1.93,12.78),(1.47,12.88),(1.3,13.0),(1.35,13.1),(1.48,13.1),(1.55,13.2),(1.75,13.15),(1.95,13.25),(2.28,13.25),(1.7,13.4),(1.65,13.5),(1.6,13.6),(1.93,13.5),(1.55,13.65),(1.42,13.7),(1.63,13.77),(1.75,13.85),(1.5,13.9),(1.65,14.0),(1.92,13.6),(1.9,13.85),(2.2,13.7),(2.2,13.9),(1.7,14.1),(1.85,13.95),(1.93,14.05),(2.15,14.1),(1.87,14.2),(1.5,14.25),(1.82,14.3),(1.55,14.45),(2.05,14.3),(2.5,14.4),(1.7,14.55),(2.0,14.6),(2.05,14.65),(2.3,14.6),(1.65,14.65),(1.78,14.8),(2.32,14.9),(2.17,14.9),(1.8,15.05),(1.9,15.3),(2.1,15.25),(2.42,15.0),(1.78,15.5),(1.83,15.4),(2.4,15.55),(1.7,15.65),(1.9,15.9),(1.85,16.1),(1.75,16.2),(2.5,16.25),(.72,16.1),(1.85,16.35),(1.88,16.45),(.99,16.55),(1.95,16.7),(2.42,16.8),(1.72,16.9),(1.76,17.0),(2.1,17.2),(1.7,17.7),(3.65,18.24),
(.62,12.1),(.6,12.4),(.62,12.8),(.58,13.1),(.6,13.4),(.66,13.7),(.7,14.0),(.76,14.25),(.8,14.5),(.88,14.75),(.95,14.95),(.98,15.2),(1.02,15.45),(1.06,15.7),(1.08,15.95),(1.2,16.2),(1.3,16.4),(1.4,16.6),(1.5,16.8),(1.12,12.2),(1.12,12.5),(1.18,12.8),(1.22,13.0),(1.28,13.3),(1.35,13.5),(1.44,13.7),(1.48,14.1),(1.52,14.35),(1.56,14.6),(1.58,14.85),(1.6,15.1),(1.6,15.4),(1.6,15.7),(1.62,16.0),(1.68,16.3),(1.72,16.55),(1.8,16.75)]
smc_a = [(1.85,12.32),(1.74,12.98),(1.84,12.96),(1.7,13.16),(2.14,13.1),(2.14,13.22),(3.55,13.31),(2.03,13.75),(2.12,13.67),(2.13,13.87),(2.19,13.95),(2.08,14.02),(2.5,14.03),(2.48,14.2),(2.41,14.27),(2.23,14.35),(2.06,14.25),(2.01,14.4),(2.27,14.48),(2.01,14.72),(2.27,14.82),(2.49,14.84),(2.55,14.79),(1.91,14.98),(2.71,14.72),(3.16,14.91),(2.42,15.11),(2.49,15.08),(2.86,15.08),(2.29,15.23),(2.38,15.31),(2.45,15.3),(2.46,15.42),(1.62,15.39),(2.57,15.49),(2.79,15.49),(2.84,15.44),(2.9,15.44),(3.01,15.46),(3.15,15.49),(2.23,15.52),(2.13,15.55),(2.06,15.81),(2.17,15.75),(2.27,15.82),(2.38,15.81),(2.46,15.81),(2.6,15.82),(2.93,15.75),(2.99,15.75),(2.07,15.99),(2.14,15.97),(2.2,15.97),(1.75,16.06),(2.79,15.94),(2.9,15.9),(2.45,16.15),(2.2,16.25),(2.92,16.2),(2.9,16.29),(1.24,16.34),(1.98,16.37),(2.22,16.38),(2.3,16.45),(2.99,16.45),(2.88,16.53),(3.06,16.63),(3.13,16.67),(3.21,16.66),(3.41,17.23),(2.24,16.67),(2.19,16.69),(2.13,16.79),(2.36,16.76),(2.74,16.77),(2.82,16.8),(2.24,16.96),(2.57,16.94),(2.67,16.95),(3.15,16.92),(3.23,17.29),(3.24,17.4),(3.06,17.37),(1.81,17.46),(1.81,17.55),(2.17,18.13)]
smc_f = [(1.79,12.77),(2.22,13.13),(3.23,13.67),(3.53,13.6),(2.53,13.67),(2.53,13.79),(3.33,14.86),(3.52,14.81),(2.96,15.4),(3.01,15.61),(2.65,15.28),(3.24,15.25),(3.69,15.85),(3.8,15.99),(3.4,15.98),(2.95,15.98),(2.26,16.03),(3.68,16.14),(3.71,16.14),(3.08,16.37),(3.24,16.34),(3.42,16.44),(3.59,16.53),(3.81,16.62),(3.27,16.66),(3.33,16.63),(3.25,16.72),(3.33,16.8),(3.44,16.78),(3.04,16.88),(3.0,16.95),(3.09,17.04),(3.04,17.07),(3.71,17.1),(3.18,17.61),(3.42,17.72),(3.49,17.77),(3.58,18.72),(3.69,18.76)]
smc_g = [(3.66,15.17),(3.66,15.21),(3.68,15.33),(3.67,15.46),(3.55,15.66),(3.78,15.77),(4.03,16.05),(4.02,16.13),(4.26,16.31),(4.12,17.24),(4.17,17.2),(3.98,17.7),(4.06,17.63),(4.2,17.66),(3.71,17.76),(4.45,17.72),(4.24,17.88),(3.55,17.97)]
smc_wr = [(.8,12.02),(.7,12.85)]
smc_bsg = [(1.08,11.7),(1.16,11.72),(1.27,11.78),(1.4,11.82),(1.45,11.82),(1.6,11.85),(1.73,11.68),(1.46,11.98),(1.49,12.07),(1.55,12.04),(1.7,12.07),(2.58,12.05),(1.11,12.15),(1.68,12.25),(1.08,12.29),(1.92,12.37),(2.0,12.39),(1.85,12.5),(2.1,12.79),(2.06,13.11),(2.42,13.16),(1.93,13.25),(2.15,13.45),(2.38,13.59),(2.44,13.7),(2.74,13.68),(2.91,13.74),(2.39,13.8),(2.37,14.1),(2.63,13.99),(2.68,14.25),(2.74,14.22),(2.84,14.22),(2.87,14.46),(3.1,14.5),(2.89,14.55),(3.0,14.58),(2.17,14.56),(2.84,14.69),(2.86,14.75),(3.03,14.82),(3.32,15.11),(2.17,15.29),(3.42,15.31),(3.27,15.36),(3.33,15.46),(3.47,15.56),(3.27,16.07),(3.93,16.25),(4.04,16.96),(3.51,17.32),(3.65,17.69),(3.81,17.76),(4.15,18.24),(4.09,18.43),(4.39,18.63)]
smc_rsg = [(2.18,12.86),(1.97,13.02),(2.08,13.26),(2.2,13.77),(2.33,13.9),(2.36,13.97),(2.63,14.03),(2.49,14.57),(2.62,14.45),(2.69,14.49),(2.78,14.37),(2.76,14.81),(2.95,14.9),(2.68,15.08),(2.83,15.17),(2.99,15.17),(2.74,15.36),(2.98,15.23),(3.09,15.31),(3.21,15.34),(3.25,15.49),(2.6,15.61),(2.84,15.63),(3.25,15.74),(2.83,15.75),(3.48,15.75),(3.08,15.97),(3.2,16.0),(3.6,16.13),(3.16,16.23),(3.83,16.38),(3.71,16.54),(3.7,16.69),(4.04,16.82),(4.05,17.17),(3.78,17.23),(3.87,17.29),(4.18,17.78),(4.16,17.94),(4.29,18.09),(4.18,18.18),(4.34,18.3),(4.26,18.5),(4.03,18.59),(4.45,18.5)]
smc_hmxb = [(.94,12.28),(.89,12.42),(.99,12.43),(1.13,12.61),(1.01,12.72),(1.08,12.75),(1.15,12.85),(1.02,13.04),(.84,13.22),(1.24,13.31),(.72,13.71),(1.81,13.83),(1.32,13.83),(.93,14.07),(1.6,14.22),(1.49,14.29),(1.78,14.85),(1.61,15.16),(1.44,15.3),(1.04,15.48),(1.1,15.5),(1.19,15.46),(1.42,15.59),(1.25,15.69),(1.07,15.95),(1.54,16.35),(1.57,16.42),(1.67,16.47),(1.82,16.58),(1.49,16.6),(1.7,16.81),(1.94,17.11),(1.84,17.21),(2.6,16.7),(.96,18.23),(1.97,18.38)]
smc_be = [(.9,12.07),(.96,12.82),(.86,12.95),(.94,12.95),(1.03,12.95),(1.12,12.94),(1.11,13.19),(1.13,13.26),(.97,13.45),(1.09,13.43),(1.22,13.46),(.92,13.54),(.15,13.77),(.92,13.63),(1.03,13.63),(1.12,13.6),(1.21,13.67),(.94,13.75),(1.0,13.84),(1.09,13.81),(1.18,13.84),(1.03,14.02),(1.18,14.01),(1.28,14.13),(1.22,14.05),(1.15,14.23),(1.27,14.31),(1.4,14.37),(1.11,14.42),(1.41,14.49),(1.0,14.55),(1.09,14.55),(1.2,14.54),(1.31,14.58),(1.42,14.6),(1.18,14.69),(1.3,14.75),(1.13,14.8),(1.14,14.98),(1.29,15.0),(1.43,14.93),(1.51,15.02),(2.18,14.93),(1.41,15.16),(1.31,15.46),(1.41,15.44),(1.49,15.45),(1.27,15.61),(1.37,15.66),(1.44,15.8),(1.3,15.85),(1.45,15.92),(1.27,15.97),(1.56,16.04),(1.21,16.1),(1.43,16.09),(1.3,16.09),(1.35,16.25),(1.43,16.29),(1.39,16.54),(1.59,16.72),(1.57,16.99),(1.83,17.03),(1.62,17.84)]
smc_yso = [(.76,12.58),(.65,12.78),(.79,12.88),(.83,13.33),(1.3,13.58),(1.35,13.68),(1.27,13.92),(.79,14.11),(1.46,15.01),(1.22,15.33),(1.68,16.6),(.94,16.94),(2.42,16.44),(2.08,17.43),(2.03,18.47)]
smc_rgb = [(.65,12.78),(2.33,15.07),(1.66,15.85),(3.05,16.75),(2.01,16.47),(2.52,16.36),(2.58,17.35),(2.43,17.52),(3.74,18.22),(3.81,19.04),(2.65,18.54)]
smc_pn = [(1.52,12.97),(1.7,15.31),(2.61,16.28),(2.06,17.54),(2.08,17.83)]
smc_rr = [(1.44,14.87),(1.28,16.15),(1.54,16.19),(1.13,16.69),(1.49,16.89),(.67,17.11),(.81,17.07),(1.66,17.18),(1.74,17.2),(1.18,17.73),(1.21,17.78),(1.4,17.81),(1.77,17.7),(2.08,17.97),(1.25,18.12),(1.33,18.13),(1.47,18.09),(1.75,18.09),(1.9,18.23),(1.67,18.31),(1.34,18.43),(1.4,18.41),(1.61,18.5),(1.9,18.5),(1.85,18.65),(1.94,18.62),(1.73,18.73),(1.6,18.81),(2.04,18.75),(2.74,17.9),(3.2,18.34)]
smc_cep = [(1.11,13.88),(1.13,14.08),(1.08,14.29),(1.25,14.29),(1.29,14.4),(1.8,14.58),(1.87,14.79),(1.2,15.04),(2.13,15.02),(1.01,15.27),(2.07,15.34),(1.87,15.47),(2.08,15.47),(.96,15.69),(2.0,15.65),(2.3,15.66),(1.77,15.77),(1.97,15.77),(2.74,15.74),(1.85,16.01),(2.69,16.06),(2.27,16.14),(2.54,16.16),(1.94,16.23),(2.07,16.22),(2.01,16.28),(2.16,16.35),(1.76,16.3),(1.78,16.39),(1.57,16.3),(1.28,16.55),(1.55,16.7),(2.49,16.48),(2.59,16.5),(2.75,16.51),(2.71,16.58),(3.43,16.56),(2.06,16.8),(2.46,16.77),(2.64,16.75),(2.66,16.82),(1.88,16.88),(2.43,16.96),(2.74,16.95),(2.82,16.96),(2.87,16.92),(2.94,16.88),(3.4,17.01),(3.34,17.1),(1.66,17.04),(2.03,17.07),(2.37,17.1),(2.52,17.11),(2.71,17.1),(3.51,17.18),(1.86,17.21),(2.1,17.21),(2.66,17.17),(2.79,17.18),(2.99,17.21),(3.15,17.24),(3.16,17.32),(1.75,17.32),(1.92,17.3),(2.51,17.27),(2.86,17.32),(2.19,17.32),(2.14,17.34),(2.96,17.4),(3.41,17.42),(3.82,17.39),
(1.97,17.48),(2.18,17.5),(2.3,17.45),(2.38,17.45),(2.49,17.43),(2.54,17.48),(2.66,17.48),(2.82,17.5),(2.34,17.61),(2.43,17.61),(2.57,17.61),(2.7,17.62),(2.82,17.65),(2.99,17.61),(3.11,17.62),(3.78,17.61),(2.12,17.7),(2.48,17.74),(2.63,17.71),(2.77,17.75),(2.9,17.8),(2.99,17.81),(3.08,17.78),(3.26,17.8),(3.33,17.75),(3.87,17.78),(1.9,17.75),(3.56,17.84),(3.65,17.87),(2.51,17.89),(2.85,17.86),(2.95,17.9),(3.05,17.92),(3.17,17.92),(3.82,17.93),(1.88,17.96),(2.17,17.89),(2.25,17.84),(2.32,17.86),(2.36,17.99),(2.52,18.03),(2.66,18.0),(2.77,18.02),(2.87,18.0),(2.99,18.02),(3.12,18.02),(3.25,18.02),(3.39,18.0),(3.61,17.96),(4.09,18.08),(4.26,18.02),(2.46,18.12),(2.64,18.15),(2.77,18.16),(2.9,18.18),(3.04,18.21),(3.15,18.16),(3.3,18.21),(3.43,18.12),(3.55,18.22),(3.85,18.24),(4.26,18.19),(2.27,18.16),(2.38,18.19),(2.04,18.21),(2.54,18.32),(2.71,18.31),(2.87,18.34),(3.02,18.34),(3.17,18.3),(3.37,18.3),(3.47,18.37),(3.66,18.38),(3.75,18.44),(2.25,18.51),(2.46,18.43),(2.63,18.47),(2.87,18.51),(3.04,18.49),(3.23,18.6),(3.4,18.5),(3.58,18.47),(3.84,18.57),(2.21,18.69),(2.54,18.7),(2.7,18.68),(2.83,18.7),(2.96,18.73),(3.08,18.66),(3.24,18.69),(3.4,18.68),(3.82,18.7),(3.65,18.73),(4.0,18.81),(4.34,18.49),(2.73,18.84),(2.87,18.89),(3.05,18.85),(3.24,18.85),(3.5,18.87),(3.34,18.89),(3.62,18.98),(3.69,19.0),(3.78,18.95),(2.62,19.0),(2.68,19.06),(2.76,19.01),(3.0,19.07),(3.11,19.1),(3.25,19.11),(3.4,19.01),(3.47,19.04),(3.63,19.19),(4.14,19.19),(2.66,19.25),(2.79,19.25),(2.87,19.22),(3.0,19.33),(3.15,19.3),(2.77,19.38),(3.46,19.32),(3.71,19.45),
(2.58,18.28),(2.8,18.28),(2.95,18.27),(3.1,18.26),(3.28,18.28),(3.46,18.27),(2.75,18.42),(2.95,18.42),(3.14,18.42),(3.3,18.42),(3.48,18.44),(2.6,18.58),(2.78,18.58),(2.95,18.58),(3.12,18.58),(3.32,18.58),(3.5,18.58),(3.68,18.6),(2.64,18.8),(2.82,18.8),(2.97,18.8),(3.15,18.78),(3.32,18.78),(3.45,18.8),(3.58,18.72),(2.92,18.95),(3.08,18.95),(3.2,18.97),(3.32,19.0),
(2.6,17.5),(2.74,17.55),(2.88,17.58),(2.45,17.55),(2.55,17.72),(2.7,17.72),(2.84,17.72),(2.95,17.72),(3.04,17.72),(3.14,17.75),(2.58,17.9),(2.68,17.88),(2.78,17.88),(2.9,17.9),(3.0,17.9),(3.1,17.88),(3.22,17.9),(3.32,17.88),(3.45,17.9),(2.6,18.06),(2.72,18.07),(2.82,18.08),(2.94,18.09),(3.06,18.1),(3.2,18.1),(3.32,18.08),(3.5,18.04),(3.6,18.1),(2.55,18.2),(2.7,18.2),(2.84,18.24),(2.96,18.2),(3.12,18.24),(3.22,18.24),(3.38,18.2),(3.62,18.22),(2.62,18.33),(2.78,18.37),(2.92,18.34),(3.1,18.36),(3.24,18.34),(3.3,18.36),(3.55,18.35),(3.6,18.4),(2.55,18.48),(2.7,18.5),(2.8,18.5),(2.92,18.5),(3.12,18.5),(3.2,18.48),(3.34,18.5),(3.48,18.52),(3.66,18.5),(3.74,18.55),(2.65,18.62),(2.85,18.62),(3.02,18.62),(3.18,18.64),(3.32,18.65),(3.48,18.65),(3.58,18.6),(3.75,18.65),(2.6,18.72),(2.75,18.75),(2.9,18.74),(3.02,18.74),(3.15,18.7),(3.3,18.72),(3.5,18.75),(3.7,18.8),(2.68,18.88),(2.8,18.92),(2.93,18.88),(3.0,18.95),(3.14,18.88),(3.3,18.92),(3.42,18.92),(3.55,18.95),(2.85,19.05),(2.93,19.05),(3.2,19.05),(3.32,19.1)]
smc_scuti = [(1.32,18.01),(1.11,18.15),(2.32,18.33)]

smc_dense_gray = [(.59,11.72),(1.09,11.69),(1.21,12.57),(1.41,13.48),(1.65,13.93),(1.94,14.38),(2.23,14.84),(2.67,15.37),(2.96,16.07),(3.20,16.66),(3.40,17.24),(3.63,17.83),(3.78,18.27),(3.69,18.85),(3.40,19.29),(2.96,19.5),(1.3,19.5),(.98,19.11),(.65,18.62),(.39,18.0),(.33,16.95),(.48,16.37),(.71,15.78),(.74,15.2),(.71,14.38),(.67,13.48),(.59,12.57)]
smc_dense_b = [(.68,11.72),(.62,12.57),(.62,13.48),(.74,14.08),(.80,14.38),(.97,14.99),(1.02,15.49),(1.12,16.07),(1.44,16.66),(1.62,16.95),(1.76,17.01),(1.65,16.37),(1.56,15.93),(1.56,15.34),(1.53,14.99),(1.44,14.38),(1.38,13.78),(1.18,13.17),(1.09,12.57),(1.09,11.75)]
smc_dark_x = [.5, 1, 1.5, 2, 2.5, 3]
smc_dark_y = [15, 15.5, 16, 16.5, 17, 17.5, 18, 18.5, 19, 19.5]
smc_dark_z = [[0,0,0,0,0,0],[0,.05,0,0,0,0],[0,.15,.05,0,0,0],[0,.25,.2,0,0,0],[0,.2,.5,.1,0,0],[0,.15,.75,.3,0,0],[0,.1,.95,.4,.02,0],[0,0,.95,.35,0,0],[0,0,.4,.1,0,0],[0,0,0,0,0,0]]

# ---------- class names and styles ----------
star_classes = ["WR", "BSG/YSG", "RSG", "HMXB", "Be", "YSO", "RGB/AGB", "PN", "RR Lyrae", "Cepheid", "<i>δ</i> Scuti"]
star_symbols = ["diamond", "pentagon", "diamond-tall", "x", "circle", "triangle-right", "triangle-left", "cross", "triangle-up", "triangle-down", "hexagon"]
star_colors = ["#5c0aa8", "#1f1a52", "#a52db0", "#c868b4", "#8f14b8", "#c67cc9", "#c7a3de", "#cdc6ee", "#6a00b0", "#c233a8", "#d9dff6"]
star_sizes = [23, 25, 25, 23, 23, 25, 25, 22, 25, 25, 19]
spec_names = ["O", "B", "A", "F", "G"]
spec_rgb = ["255,40,240", "0,175,255", "20,235,105", "255,145,40", "255,40,80"]

SERIF = "Liberation Serif"
fig = go.Figure()

def xs(p): return [a for a, _ in p]
def ys(p): return [b for _, b in p]

def dots(p, rgb, size, ax, ay, name):
    fig.add_trace(go.Scatter(x=xs(p), y=ys(p), mode="markers", name=name, showlegend=False, xaxis=ax, yaxis=ay,
        marker=dict(symbol="circle", size=size, color=f"rgba({rgb},0.7)", line=dict(width=2, color=f"rgba({rgb},0.85)"))))

def panel(ax, ay, gray, dense_b, spec, stars, dark):
    fig.add_trace(go.Heatmap(x=dark[0], y=dark[1], z=dark[2], zmin=0, zmax=1, zsmooth="best", showscale=False, hoverinfo="skip",
        colorscale=[[0, "rgba(0,0,0,0)"], [1, "rgba(0,0,0,1)"]], xaxis=ax, yaxis=ay))
    dots(gray, "128,128,128", 11, ax, ay, "field")
    fig.add_trace(go.Scatter(x=xs(dense_b), y=ys(dense_b), mode="none", fill="toself", fillcolor="#0ab4fb", showlegend=False, hoverinfo="skip", xaxis=ax, yaxis=ay))
    for i in [1, 0, 2, 3, 4]:
        dots(spec[i], spec_rgb[i], 13, ax, ay, spec_names[i])
    for i, pts in enumerate(stars):
        fig.add_trace(go.Scatter(x=xs(pts), y=ys(pts), mode="markers", name=star_classes[i], showlegend=False, xaxis=ax, yaxis=ay,
            marker=dict(symbol=star_symbols[i], size=star_sizes[i], color=star_colors[i], line=dict(width=2, color="#0a0a14"))))

panel("x", "y", lmc_gray + lmc_gray_edge + lmc_gray_more, lmc_dense_b, [lmc_o, lmc_b, lmc_a, lmc_f, lmc_g],
      [lmc_wr, lmc_bsg, lmc_rsg, lmc_hmxb, lmc_be, lmc_yso, lmc_rgb, lmc_pn, lmc_rr, lmc_cep, lmc_scuti],
      (lmc_dark_x, lmc_dark_y, lmc_dark_z))
panel("x2", "y2", smc_gray + smc_gray_edge + smc_gray_more, smc_dense_b, [smc_o, smc_b, smc_a, smc_f, smc_g],
      [smc_wr, smc_bsg, smc_rsg, smc_hmxb, smc_be, smc_yso, smc_rgb, smc_pn, smc_rr, smc_cep, smc_scuti],
      (smc_dark_x, smc_dark_y, smc_dark_z))

# legend-only keys
for i, name in enumerate(star_classes):
    fig.add_trace(go.Scatter(x=[None], y=[None], mode="markers", name=name, legend="legend", xaxis="x", yaxis="y",
        marker=dict(symbol=star_symbols[i], size=16, color=star_colors[i], line=dict(width=2, color="#0a0a14"))))
for lg, ax, ay in (("legend2", "x", "y"), ("legend3", "x2", "y2")):
    for i, name in enumerate(spec_names):
        fig.add_trace(go.Scatter(x=[None], y=[None], mode="markers", name=f'<span style="font-size:48px">{name}</span>', legend=lg, xaxis=ax, yaxis=ay,
            marker=dict(symbol="circle", size=16, color=f"rgba({spec_rgb[i]},0.5)", line=dict(width=5, color=f"rgba({spec_rgb[i]},0.65)"))))

def poly(p, ax, ay, color):
    path = "M " + " L ".join(f"{a} {b}" for a, b in p) + " Z"
    return dict(type="path", path=path, xref=ax, yref=ay, fillcolor=color, line_width=0, layer="below")

def px(v): return v / PAGE_W
def py(v): return 1 - v / PAGE_H

r = 8
lx0, lx1, ly0, ly1 = px(167), px(2320), py(21), py(99)
rx, ry = r / PAGE_W, r / PAGE_H
box = (f"M {lx0+rx} {ly0} L {lx1} {ly0} L {lx1} {ly1} L {lx0+rx} {ly1} Q {lx0} {ly1} {lx0} {ly1+ry} "
       f"L {lx0} {ly0-ry} Q {lx0} {ly0} {lx0+rx} {ly0} Z")

axis = dict(showgrid=False, zeroline=False, showline=True, linecolor="#111", linewidth=3.5, ticks="outside", tickwidth=3, tickcolor="#111")
fig.update_layout(
    width=PAGE_W, height=PAGE_H, paper_bgcolor="white", plot_bgcolor="white",
    margin=dict(l=0, r=0, t=0, b=0, autoexpand=False),
    font=dict(family=SERIF, color="#111", size=40),
    xaxis=dict(axis, domain=[px(170), px(1173)], range=[0, 4.498], tickvals=tick_vals_x, showticklabels=False, ticklen=17, mirror=True, anchor="y"),
    yaxis=dict(axis, domain=[py(1181), py(139)], range=[19.498, 11.509], tickvals=tick_vals_y, ticklen=16, mirror=True, anchor="x",
               tickfont=dict(size=44), ticklabelstandoff=10),
    xaxis2=dict(axis, domain=[px(1274), 1], range=[0, 4.475], tickvals=tick_vals_x, showticklabels=False, ticklen=17, mirror=True, anchor="y2"),
    yaxis2=dict(axis, domain=[py(1181), py(139)], range=[19.498, 11.509], tickvals=tick_vals_y, ticklen=16, anchor="x2",
                tickfont=dict(size=44), ticklabelstandoff=10),
    shapes=[poly(lmc_dense_gray, "x", "y", "#808080"), poly(smc_dense_gray, "x2", "y2", "#808080"),
            dict(type="path", path=box, xref="paper", yref="paper", fillcolor="white", line=dict(color="#cfcfcf", width=4), layer="below")],
    annotations=[dict(text=y_title, xref="paper", yref="paper", x=px(40), y=py(660), xanchor="center", yanchor="middle",
                      textangle=-90, showarrow=False, font=dict(size=56)),
                 dict(text="LMC", xref="paper", yref="paper", x=px(1074), y=py(192), xanchor="center", yanchor="middle",
                      showarrow=False, font=dict(size=56)),
                 dict(text="SMC", xref="paper", yref="paper", x=px(2178), y=py(192), xanchor="center", yanchor="middle",
                      showarrow=False, font=dict(size=56))],
    legend=dict(orientation="h", x=px(166), y=py(56), xanchor="left", yanchor="middle", bgcolor="rgba(0,0,0,0)",
                font=dict(size=46), itemwidth=50, traceorder="normal", itemclick=False),
    legend2=dict(x=px(1021), y=py(224), xanchor="left", yanchor="top", bgcolor="rgba(0,0,0,0)", font=dict(size=37.6), itemwidth=48),
    legend3=dict(x=px(2137), y=py(224), xanchor="left", yanchor="top", bgcolor="rgba(0,0,0,0)", font=dict(size=37.6), itemwidth=48),
)

fig.write_html("out.html", config=dict(displayModeBar=False),
               post_script="document.body.style.margin='0';document.body.style.overflow='hidden';")
